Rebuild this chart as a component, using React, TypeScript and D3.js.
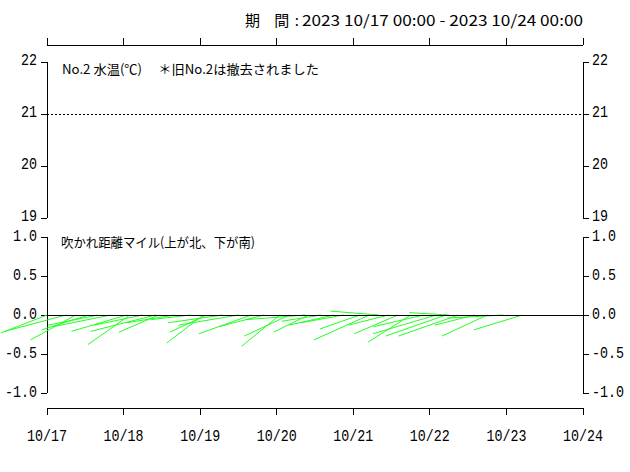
import React from 'react';
import * as d3 from 'd3';

// period / axis labels
const dayLabels = ['10/17', '10/18', '10/19', '10/20', '10/21', '10/22', '10/23', '10/24'];
const tempTicks = [19, 20, 21, 22];
const windTicks = [-1.0, -0.5, 0.0, 0.5, 1.0];

// wind sticks: hours from 10/17 00:00, east (u) and north (v) components in miles
const stickHours = [0, 6, 9, 13, 16, 20, 25, 26, 30, 34, 35, 40, 45, 49, 50, 55, 60, 64, 68, 73, 76, 81, 82, 86, 90, 93, 98, 101, 104, 107, 110, 114, 118, 122, 125, 126, 129, 134, 138, 143, 149];
const stickU = [-0.59, -0.79, -0.58, -0.60, -0.64, -0.74, -0.71, -0.54, -0.62, -0.83, -0.51, -0.62, -0.51, -0.47, -0.47, -0.70, -0.77, -0.67, -0.58, -0.49, -0.58, -0.77, -0.45, -0.51, -0.58, -0.55, -0.51, -0.71, -0.62, -0.51, -0.56, -0.55, -0.64, -0.81, -0.77, -0.51, -0.77, -0.51, -0.58, -0.72, -0.62];
const stickV = [-0.23, -0.21, -0.32, -0.19, -0.13, -0.15, -0.21, -0.38, -0.13, -0.21, -0.22, -0.10, -0.06, -0.36, -0.22, -0.10, -0.13, -0.24, -0.15, -0.40, -0.27, -0.06, -0.22, -0.08, -0.13, -0.10, -0.18, -0.32, 0.05, -0.13, -0.24, -0.35, -0.15, -0.24, -0.27, 0.03, -0.27, -0.13, -0.27, -0.04, -0.19];

const W = 630;
const H = 472;
const left = 47;
const right = 583;

const numFont = 'Liberation Mono, DejaVu Sans Mono, monospace';
const jpFont = '"Noto Sans CJK JP", sans-serif';

// tall, narrow monospace digits like the original bitmap font
const NumText: React.FC<{x: number; y: number; text: string; anchor?: string}> = ({x, y, text, anchor = 'start'}) => (
    <g transform={`translate(${x},${y}) scale(0.785,1)`}>
        <text x={0} y={0} fontFamily={numFont} fontSize={17} textAnchor={anchor}
              dominantBaseline="central" fill="#000">{text}</text>
    </g>
);

const App: React.FC = () => {
    const x = d3.scaleLinear().domain([0, 168]).range([left, right]);
    const yTemp = d3.scaleLinear().domain([19, 22]).range([218, 62]);
    const yWind = d3.scaleLinear().domain([-1, 1]).range([393, 237]);
    const k = yWind(0) - yWind(1); // px per mile, same for both components
    const dayTicks = d3.range(0, 169, 24);

    return (
        <svg width={W} height={H} style={{position: 'absolute', left: 0, top: 0, background: '#fff'}}>
            {/* title */}
            <text x={245} y={19} fontFamily={jpFont} fontSize={15} textLength={54}
                  lengthAdjust="spacing" dominantBaseline="central">期 間:</text>
            <text x={302} y={19} fontFamily={jpFont} fontSize={15} textLength={281}
                  lengthAdjust="spacingAndGlyphs" dominantBaseline="central">2023 10/17 00:00 - 2023 10/24 00:00</text>

            {/* top axis */}
            <g stroke="#000" strokeWidth={1} shapeRendering="crispEdges">
                <line x1={left} x2={right} y1={45} y2={45}/>
                {dayTicks.map(t => <line key={'tt' + t} x1={x(t)} x2={x(t)} y1={38} y2={45}/>)}
            </g>

            {/* temperature panel */}
            <g stroke="#000" strokeWidth={1} shapeRendering="crispEdges">
                <line x1={left} x2={left} y1={yTemp(22)} y2={yTemp(19)}/>
                <line x1={right} x2={right} y1={yTemp(22)} y2={yTemp(19)}/>
                {tempTicks.map(t => (
                    <g key={'yt' + t}>
                        <line x1={left - 6} x2={left} y1={yTemp(t)} y2={yTemp(t)}/>
                        <line x1={right} x2={right + 6} y1={yTemp(t)} y2={yTemp(t)}/>
                    </g>
                ))}
                <line x1={left} x2={right} y1={yTemp(21)} y2={yTemp(21)} strokeDasharray="2,2"/>
            </g>
            {tempTicks.map(t => (
                <g key={'ytl' + t}>
                    <NumText x={37} y={yTemp(t) - 1} text={String(t)} anchor="end"/>
                    <NumText x={592} y={yTemp(t) - 1} text={String(t)}/>
                </g>
            ))}
            <text x={62} y={68} fontFamily={jpFont} fontSize={13} textLength={257}
                  lengthAdjust="spacingAndGlyphs" dominantBaseline="central">No.2 水温(℃)　 ＊旧No.2は撤去されました</text>

            {/* wind panel */}
            <g stroke="#000" strokeWidth={1} shapeRendering="crispEdges">
                <line x1={left} x2={left} y1={yWind(1)} y2={yWind(-1)}/>
                <line x1={right} x2={right} y1={yWind(1)} y2={yWind(-1)}/>
                {windTicks.map(t => (
                    <g key={'yw' + t}>
                        <line x1={left - 6} x2={left} y1={yWind(t)} y2={yWind(t)}/>
                        <line x1={right} x2={right + 6} y1={yWind(t)} y2={yWind(t)}/>
                    </g>
                ))}
            </g>
            {windTicks.map(t => (
                <g key={'ywl' + t}>
                    <NumText x={37} y={yWind(t)} text={t.toFixed(1)} anchor="end"/>
                    <NumText x={592} y={yWind(t)} text={t.toFixed(1)}/>
                </g>
            ))}
            <text x={61} y={241} fontFamily={jpFont} fontSize={13} textLength={194}
                  lengthAdjust="spacingAndGlyphs" dominantBaseline="central">吹かれ距離マイル(上が北、下が南)</text>

            {/* sticks */}
            <g stroke="#22ff22" strokeWidth={1}>
                {stickHours.map((h, i) => (
                    <line key={'s' + i} x1={x(h)} y1={yWind(0)} x2={x(h) + stickU[i] * k} y2={yWind(0) - stickV[i] * k}/>
                ))}
            </g>
            <line x1={left} x2={right} y1={yWind(0)} y2={yWind(0)} stroke="#000" strokeWidth={1} shapeRendering="crispEdges"/>

            {/* bottom axis */}
            <g stroke="#000" strokeWidth={1} shapeRendering="crispEdges">
                <line x1={left} x2={right} y1={408} y2={408}/>
                {dayTicks.map(t => <line key={'bt' + t} x1={x(t)} x2={x(t)} y1={408} y2={415}/>)}
            </g>
            {dayTicks.map((t, i) => (
                <NumText key={'bl' + t} x={x(t)} y={437} text={dayLabels[i]} anchor="middle"/>
            ))}
        </svg>
    );
};

export default App;
